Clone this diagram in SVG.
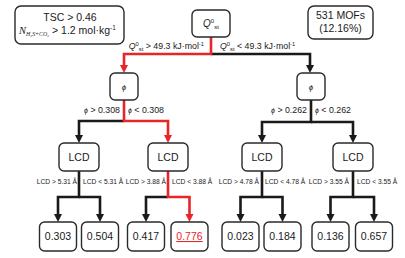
<svg xmlns="http://www.w3.org/2000/svg" width="405" height="258" viewBox="0 0 405 258">
<style>
.box{fill:#fff;stroke:#2a2a2a;stroke-width:1.4}
.t{font-family:"Liberation Sans",Arial,sans-serif;fill:#1a1a1a}
.big{font-size:10.5px}
.lbl{font-size:8.8px}
.sm{font-size:6.7px}
.blk{fill:none;stroke:#1a1a1a;stroke-width:2.6}
.red{fill:none;stroke:#e8262a;stroke-width:2.6}
.it{font-style:italic}
.ser{font-family:"Liberation Serif","Times New Roman",serif}
</style>
<defs>
<marker id="ab" markerUnits="userSpaceOnUse" markerWidth="9" markerHeight="9" refX="4" refY="4" orient="auto"><path d="M0,0 L8,4 L0,8 z" fill="#1a1a1a"/></marker>
<marker id="ar" markerUnits="userSpaceOnUse" markerWidth="9" markerHeight="9" refX="4" refY="4" orient="auto"><path d="M0,0 L8,4 L0,8 z" fill="#e8262a"/></marker>
</defs>
<rect width="405" height="258" fill="#fff"/>

<g id="connectors">
<path class="blk" d="M211,54 H310 V69" marker-end="url(#ab)"/>
<path class="red" d="M211,37 V54 H124 V69" marker-end="url(#ar)"/>
<path class="blk" d="M124,121 H79 V139" marker-end="url(#ab)"/>
<path class="red" d="M124,100 V121 H168 V139" marker-end="url(#ar)"/>
<path class="blk" d="M311,100 V122 H262 V139" marker-end="url(#ab)"/>
<path class="blk" d="M311,122 H353 V139" marker-end="url(#ab)"/>
<path class="blk" d="M79,171 V197 H58 V218" marker-end="url(#ab)"/>
<path class="blk" d="M79,197 H100 V218" marker-end="url(#ab)"/>
<path class="blk" d="M168,197 H146 V218" marker-end="url(#ab)"/>
<path class="red" d="M168,171 V197 H189.5 V218" marker-end="url(#ar)"/>
<path class="blk" d="M262,171 V197 H240.5 V218" marker-end="url(#ab)"/>
<path class="blk" d="M262,197 H282.5 V218" marker-end="url(#ab)"/>
<path class="blk" d="M353,171 V197 H330.5 V218" marker-end="url(#ab)"/>
<path class="blk" d="M353,197 H374 V218" marker-end="url(#ab)"/>
</g>

<g id="labels">
<text class="t lbl" x="204" y="49" text-anchor="end"><tspan class="it">Q</tspan><tspan font-size="5.8" dy="-3">0</tspan><tspan font-size="5.8" dy="5">st</tspan><tspan dy="-2"> &gt; 49.3 kJ·mol</tspan><tspan font-size="5.8" dy="-3">-1</tspan></text>
<text class="t lbl" x="220" y="49"><tspan class="it">Q</tspan><tspan font-size="5.8" dy="-3">0</tspan><tspan font-size="5.8" dy="5">st</tspan><tspan dy="-2"> &lt; 49.3 kJ·mol</tspan><tspan font-size="5.8" dy="-3">-1</tspan></text>
<text class="t lbl" x="120" y="113" text-anchor="end"><tspan class="it" font-size="7">ϕ</tspan> &gt; 0.308</text>
<text class="t lbl" x="128" y="113"><tspan class="it" font-size="7">ϕ</tspan> &lt; 0.308</text>
<text class="t lbl" x="307" y="113" text-anchor="end"><tspan class="it" font-size="7">ϕ</tspan> &gt; 0.262</text>
<text class="t lbl" x="315" y="113"><tspan class="it" font-size="7">ϕ</tspan> &lt; 0.262</text>
<text class="t sm" x="77" y="184" text-anchor="end">LCD &gt; 5.31 Å</text>
<text class="t sm" x="83" y="184">LCD &lt; 5.31 Å</text>
<text class="t sm" x="166" y="184" text-anchor="end">LCD &gt; 3.88 Å</text>
<text class="t sm" x="172" y="184">LCD &lt; 3.88 Å</text>
<text class="t sm" x="259" y="184" text-anchor="end">LCD &gt; 4.78 Å</text>
<text class="t sm" x="265" y="184">LCD &lt; 4.78 Å</text>
<text class="t sm" x="349" y="184" text-anchor="end">LCD &gt; 3.55 Å</text>
<text class="t sm" x="357" y="184">LCD &lt; 3.55 Å</text>
</g>

<g id="criteria">
<rect class="box" x="15" y="6" width="109" height="38" rx="6"/>
<text class="t big" x="70" y="21" text-anchor="middle">TSC &gt; 0.46</text>
<text class="t big" x="19" y="34"><tspan class="ser it">N</tspan><tspan class="ser it" font-size="5.8" dy="2">H₂S+CO₂</tspan><tspan dy="-2"> &gt; 1.2 mol·kg</tspan><tspan font-size="6.5" dy="-4">-1</tspan></text>
</g>

<g id="stats">
<rect class="box" x="308" y="6" width="65" height="33" rx="6"/>
<text class="t big" x="340.5" y="19" text-anchor="middle">531 MOFs</text>
<text class="t big" x="340.5" y="32" text-anchor="middle">(12.16%)</text>
</g>

<g id="node-q">
<rect class="box" x="192" y="10" width="38" height="27" rx="5"/>
<text class="t" font-size="10" x="203" y="27"><tspan class="it">Q</tspan><tspan font-size="6" dy="-4">0</tspan><tspan font-size="6" dy="6">st</tspan></text>
</g>

<g id="node-phi1">
<rect class="box" x="110" y="73" width="28" height="27" rx="5"/>
<text class="t it" font-size="8" x="124" y="90" text-anchor="middle">ϕ</text>
</g>
<g id="node-phi2">
<rect class="box" x="297" y="73" width="28" height="27" rx="5"/>
<text class="t it" font-size="8" x="311" y="90" text-anchor="middle">ϕ</text>
</g>

<g id="node-lcd1"><rect class="box" x="59" y="143" width="40" height="28" rx="5"/><text class="t big" x="79" y="161" text-anchor="middle">LCD</text></g>
<g id="node-lcd2"><rect class="box" x="148" y="143" width="40" height="28" rx="5"/><text class="t big" x="168" y="161" text-anchor="middle">LCD</text></g>
<g id="node-lcd3"><rect class="box" x="242" y="143" width="40" height="28" rx="5"/><text class="t big" x="262" y="161" text-anchor="middle">LCD</text></g>
<g id="node-lcd4"><rect class="box" x="333" y="143" width="40" height="28" rx="5"/><text class="t big" x="353" y="161" text-anchor="middle">LCD</text></g>

<g id="leaf-0303"><rect class="box" x="39.5" y="222" width="37" height="29" rx="5"/><text class="t big" x="58" y="240" text-anchor="middle">0.303</text></g>
<g id="leaf-0504"><rect class="box" x="81.5" y="222" width="37" height="29" rx="5"/><text class="t big" x="100" y="240" text-anchor="middle">0.504</text></g>
<g id="leaf-0417"><rect class="box" x="127.5" y="222" width="37" height="29" rx="5"/><text class="t big" x="146" y="240" text-anchor="middle">0.417</text></g>
<g id="leaf-0776"><rect class="box" x="171" y="222" width="37" height="29" rx="5"/><text class="t big" x="189.5" y="240" text-anchor="middle" style="fill:#e8262a" text-decoration="underline">0.776</text></g>
<g id="leaf-0023"><rect class="box" x="222" y="222" width="37" height="29" rx="5"/><text class="t big" x="240.5" y="240" text-anchor="middle">0.023</text></g>
<g id="leaf-0184"><rect class="box" x="264" y="222" width="37" height="29" rx="5"/><text class="t big" x="282.5" y="240" text-anchor="middle">0.184</text></g>
<g id="leaf-0136"><rect class="box" x="312" y="222" width="37" height="29" rx="5"/><text class="t big" x="330.5" y="240" text-anchor="middle">0.136</text></g>
<g id="leaf-0657"><rect class="box" x="355.5" y="222" width="37" height="29" rx="5"/><text class="t big" x="374" y="240" text-anchor="middle">0.657</text></g>
</svg>
